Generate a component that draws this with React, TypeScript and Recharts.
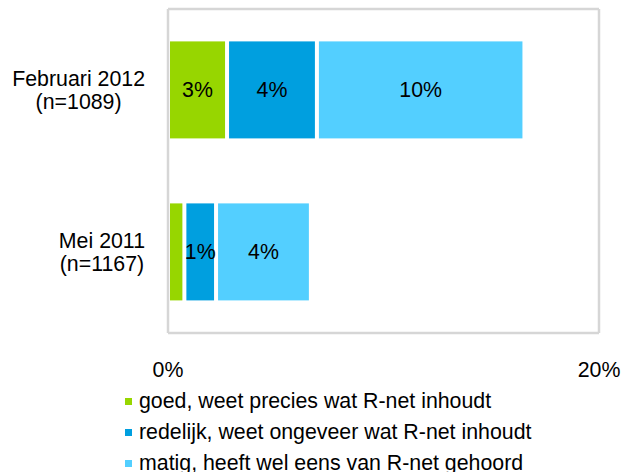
import { BarChart, Bar, XAxis, YAxis, CartesianGrid, Legend, LabelList } from "recharts";

const categories = ["Februari 2012", "Mei 2011"];
const sampleSizes = ["(n=1089)", "(n=1167)"];
const goed = [2.74, 0.76];
const redelijk = [4.17, 1.47];
const matig = [9.63, 4.4];
const seriesNames = [
  "goed, weet precies wat R-net inhoudt",
  "redelijk, weet ongeveer wat R-net inhoudt",
  "matig, heeft wel eens van R-net gehoord",
];
const xTicks = [0, 20];

const COLORS = ["#97d600", "#009fdf", "#53cfff"];
const FONT = "'Liberation Sans', Arial, sans-serif";
const FONT_SIZE = 21.33;

const data = categories.map((name, i) => ({
  name,
  n: sampleSizes[i],
  goed: goed[i],
  redelijk: redelijk[i],
  matig: matig[i],
}));

let canvas: HTMLCanvasElement | null = null;
const measure = (txt: string) => {
  if (!canvas) canvas = document.createElement("canvas");
  const ctx = canvas.getContext("2d");
  if (!ctx) return txt.length * 11;
  ctx.font = `${FONT_SIZE}px 'Liberation Sans', Arial, sans-serif`;
  return ctx.measureText(txt).width;
};

const CategoryTick = ({ x, y, payload }: any) => {
  const lines = [payload.value, sampleSizes[payload.index]];
  const w = Math.max(...lines.map(measure));
  const cx = x - w / 2;
  return (
    <g>
      {lines.map((l, i) => (
        <text
          key={i}
          x={cx}
          y={y - 11.5 + i * 23}
          textAnchor="middle"
          dominantBaseline="central"
          fontSize={FONT_SIZE}
          fontFamily={FONT}
          fill="#000"
        >
          {l}
        </text>
      ))}
    </g>
  );
};

const PercentTick = ({ x, y, payload }: any) => (
  <text
    x={x}
    y={y}
    textAnchor="middle"
    dominantBaseline="central"
    fontSize={FONT_SIZE}
    fontFamily={FONT}
    fill="#000"
  >
    {payload.value}%
  </text>
);

// bars are drawn with a small inset so the stacked segments show white gaps
const SegmentShape = (props: any) => {
  const { x, y, width, height, fill } = props;
  return <rect x={x + 2} y={y} width={Math.max(width - 4, 0)} height={height} fill={fill} />;
};

const SegmentLabel = ({ x, y, width, height, value }: any) => {
  if (width < 20) return null;
  return (
    <text
      x={x + width / 2}
      y={y + height / 2}
      textAnchor="middle"
      dominantBaseline="central"
      fontSize={FONT_SIZE}
      fontFamily={FONT}
      fill="#000"
    >
      {Math.round(value)}%
    </text>
  );
};

const LegendContent = () => (
  <div style={{ fontFamily: FONT, fontSize: FONT_SIZE, color: "#000" }}>
    {seriesNames.map((s, i) => (
      <div key={s} style={{ display: "flex", alignItems: "center", height: 31, whiteSpace: "nowrap" }}>
        <span
          style={{ display: "inline-block", width: 7, height: 7, background: COLORS[i], marginRight: 7 }}
        />
        <span>{s}</span>
      </div>
    ))}
  </div>
);

const keys = ["goed", "redelijk", "matig"];

export default function App() {
  return (
    <div style={{ position: "absolute", left: 0, top: 0, width: 625, height: 472, background: "#fff", overflow: "hidden" }}>
      <BarChart
        width={625}
        height={472}
        data={data}
        layout="vertical"
        barCategoryGap="20%"
        margin={{ top: 9, right: 26, left: 0, bottom: 109 }}
      >
        <CartesianGrid
          stroke="#d6d6d6"
          strokeWidth={2.5}
          horizontalCoordinatesGenerator={({ offset }: any) => [offset.top, offset.top + offset.height]}
          verticalCoordinatesGenerator={({ offset }: any) => [offset.left, offset.left + offset.width]}
        />
        <XAxis
          type="number"
          domain={[0, 20]}
          ticks={xTicks}
          axisLine={false}
          tickLine={false}
          tickSize={8}
          tickMargin={29}
          height={30}
          tick={<PercentTick />}
          interval={0}
        />
        <YAxis
          type="category"
          dataKey="name"
          width={168}
          axisLine={false}
          tickLine={false}
          tickSize={0}
          tickMargin={23}
          tick={<CategoryTick />}
        />
        <Legend
          layout="vertical"
          align="center"
          verticalAlign="middle"
          wrapperStyle={{ position: "absolute", left: 125, top: 386, width: 480, height: 93 }}
          content={<LegendContent />}
        />
        {keys.map((k, i) => (
          <Bar
            key={k}
            dataKey={k}
            name={seriesNames[i]}
            stackId="a"
            fill={COLORS[i]}
            shape={<SegmentShape />}
            isAnimationActive={false}
          >
            <LabelList dataKey={k} content={<SegmentLabel />} />
          </Bar>
        ))}
      </BarChart>
    </div>
  );
}
